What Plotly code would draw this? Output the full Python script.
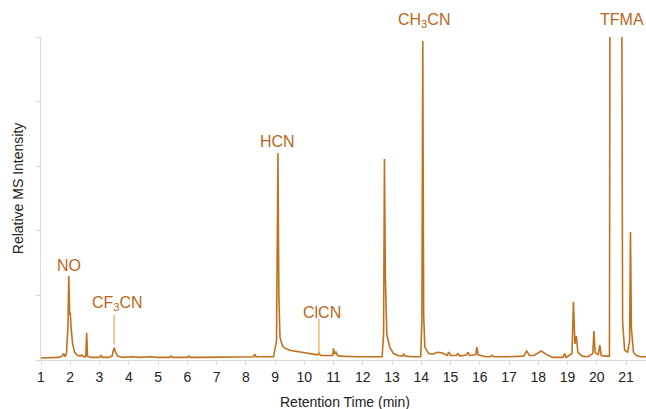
import plotly.graph_objects as go

# Retention time (min) and relative MS intensity
time_min = [
    1.00, 1.20, 1.40, 1.60, 1.72, 1.78, 1.82, 1.87, 1.92, 1.95, 1.98, 2.00, 2.03, 2.08, 2.15, 2.25,
    2.35, 2.40, 2.45, 2.53, 2.56, 2.59, 2.70, 2.90, 3.00, 3.05, 3.10, 3.30, 3.43, 3.47, 3.50, 3.55,
    3.62, 3.80, 4.10, 4.40, 4.70, 5.00, 5.40, 5.45, 5.50, 5.80, 6.00, 6.05, 6.10, 6.50, 6.80, 7.20,
    7.50, 7.90, 8.20, 8.27, 8.30, 8.35, 8.60, 8.95, 9.05, 9.08, 9.10, 9.13, 9.17, 9.25, 9.35, 9.50,
    9.75, 10.00, 10.30, 10.45, 10.50, 10.55, 10.80, 10.97, 11.00, 11.03, 11.08, 11.12, 11.20, 11.50,
    11.80, 12.10, 12.40, 12.66, 12.71, 12.74, 12.77, 12.82, 12.92, 13.05, 13.20, 13.35, 13.40, 13.45,
    13.70, 13.98, 14.02, 14.05, 14.08, 14.12, 14.25, 14.40, 14.55, 14.70, 14.88, 14.94, 15.00, 15.20,
    15.25, 15.32, 15.55, 15.60, 15.65, 15.86, 15.90, 15.94, 16.20, 16.35, 16.40, 16.50, 16.90, 17.30,
    17.50, 17.60, 17.70, 17.85, 18.10, 18.30, 18.50, 18.84, 18.90, 18.95, 19.15, 19.20, 19.25, 19.30,
    19.35, 19.50, 19.70, 19.86, 19.90, 19.94, 20.05, 20.10, 20.15, 20.30, 20.43, 20.45, 20.85, 20.88,
    20.95, 21.05, 21.12, 21.15, 21.18, 21.25, 21.35, 21.50, 21.68,
]
intensity = [
    0.03, 0.03, 0.03, 0.04, 0.06, 0.10, 0.05, 0.10, 0.50, 1.30, 0.70, 0.73, 0.50, 0.25, 0.12, 0.07,
    0.06, 0.08, 0.05, 0.05, 0.42, 0.06, 0.04, 0.04, 0.04, 0.07, 0.04, 0.04, 0.06, 0.14, 0.19, 0.12,
    0.06, 0.04, 0.05, 0.04, 0.05, 0.04, 0.04, 0.06, 0.04, 0.04, 0.04, 0.06, 0.04, 0.04, 0.04, 0.04,
    0.04, 0.04, 0.04, 0.05, 0.09, 0.05, 0.05, 0.05, 0.30, 2.00, 3.20, 1.00, 0.35, 0.22, 0.18, 0.15,
    0.13, 0.11, 0.09, 0.08, 0.11, 0.07, 0.07, 0.07, 0.18, 0.09, 0.13, 0.08, 0.06, 0.05,
    0.05, 0.05, 0.05, 0.05, 0.40, 3.11, 1.30, 0.40, 0.20, 0.10, 0.07, 0.06, 0.09, 0.06,
    0.05, 0.05, 0.60, 4.94, 0.70, 0.20, 0.10, 0.09, 0.12, 0.11, 0.07, 0.12, 0.07, 0.07,
    0.10, 0.06, 0.08, 0.12, 0.07, 0.08, 0.20, 0.08, 0.05, 0.05, 0.07, 0.05, 0.05, 0.05,
    0.06, 0.14, 0.07, 0.07, 0.14, 0.08, 0.04, 0.04, 0.10, 0.04, 0.10, 0.90, 0.25, 0.37,
    0.12, 0.06, 0.05, 0.10, 0.45, 0.12, 0.08, 0.23, 0.07, 0.06, 0.06, 6.00, 6.00, 0.60,
    0.15, 0.12, 0.30, 1.98, 0.50, 0.12, 0.07, 0.05, 0.05,
]

# Peak labels (positions in intensity units; axis runs 0..5)
label_text = ["NO", "CF<sub>3</sub>CN", "HCN", "ClCN", "CH<sub>3</sub>CN", "TFMA"]
label_x = [1.95, 3.6, 9.1, 10.6, 14.1, 20.86]
label_y = [1.47, 0.88, 3.38, 0.73, 5.25, 5.27]

# Leader lines (x, y_from, y_to)
leader_x = [3.5, 10.5]
leader_y0 = [0.24, 0.09]
leader_y1 = [0.70, 0.64]

x_ticks = list(range(1, 22))
y_max = 5

line_color = "#C0711E"
text_color = "#B9661C"
axis_color = "#D9D9D9"
font_family = "Liberation Sans, Arial, sans-serif"

fig = go.Figure()
fig.add_trace(go.Scatter(
    x=time_min, y=intensity, mode="lines",
    line=dict(color=line_color, width=1.6),
    hoverinfo="skip", showlegend=False,
))

for t, x, y in zip(label_text, label_x, label_y):
    fig.add_annotation(x=x, y=y / y_max, xref="x", yref="paper", text=t, showarrow=False,
                       xanchor="center", yanchor="middle",
                       font=dict(family=font_family, size=16, color=text_color))

for x, y0, y1 in zip(leader_x, leader_y0, leader_y1):
    fig.add_shape(type="line", xref="x", yref="y", x0=x, x1=x, y0=y0, y1=y1,
                  line=dict(color="#F0A45A", width=1.2))

fig.add_annotation(x=0.503, y=-0.13, xref="paper", yref="paper", yanchor="middle",
                   text="Retention Time (min)", showarrow=False,
                   font=dict(family=font_family, size=14, color="#222222"))
fig.add_annotation(x=-0.038, y=0.532, xref="paper", yref="paper", xanchor="center", yanchor="middle",
                   text="Relative MS Intensity", showarrow=False, textangle=-90,
                   font=dict(family=font_family, size=14, color="#222222"))

fig.update_layout(
    width=646, height=409,
    margin=dict(l=41, r=0, t=37, b=49),
    paper_bgcolor="white", plot_bgcolor="white",
    font=dict(family=font_family, size=14, color="#222222"),
    xaxis=dict(range=[1, 21.68], tickvals=x_ticks, ticktext=[str(v) for v in x_ticks],
               showgrid=False, zeroline=False, showline=True, linecolor=axis_color, linewidth=1,
               ticks="outside", ticklen=4, tickcolor=axis_color, tickfont=dict(size=14, color="#222222")),
    yaxis=dict(range=[0, y_max], tickvals=[0, 1, 2, 3, 4, 5], showticklabels=False,
               showgrid=False, zeroline=False, showline=True, linecolor=axis_color, linewidth=1,
               ticks="outside", ticklen=4, tickcolor=axis_color),
)

fig.write_html("out.html", config={"displayModeBar": False},
               post_script="document.body.style.margin='0';")
